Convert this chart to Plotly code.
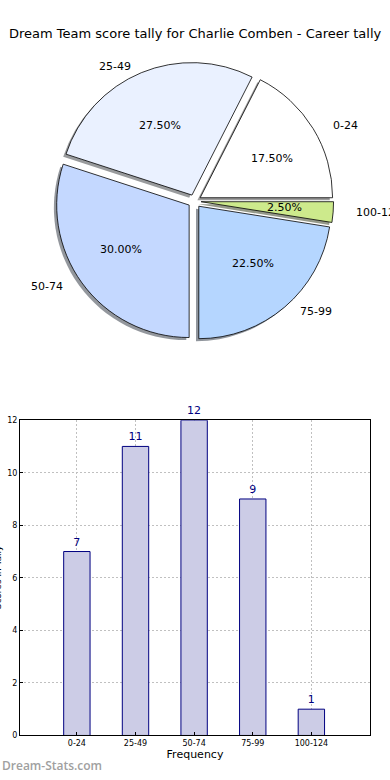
import math
import plotly.graph_objects as go

# ---- data ----
categories = ["0-24", "25-49", "50-74", "75-99", "100-124"]
counts = [7, 11, 12, 9, 1]
pie_colors = ["#ffffff", "#eaf1ff", "#c4d8ff", "#b5d6ff", "#cdea8c"]
shadow_colors = ["rgba(77,77,77,0.55)", "rgba(70,72,77,0.55)", "rgba(59,65,77,0.55)",
                 "rgba(54,64,77,0.55)", "rgba(62,70,42,0.55)"]
title_text = "Dream Team score tally for Charlie Comben - Career tally"
x_title = "Frequency"
y_title = "Scores in Tally"
watermark = "Dream-Stats.com"

W, H = 390, 780
FONT = "DejaVu Sans"


def px(x):
    return x / W


def py(y):
    return 1 - y / H


# ---- pie geometry (pixels) ----
cx, cy = 194.5, 199.5
r = 134.0              # drawn radius
rx, ry = 139.0, 128.0  # text placement radii
pull = 0.05
sx, sy = -2.8, 2.6     # shadow offset
half = r * (1 + pull)
total = sum(counts)
# first slice starts at 3 o'clock and runs counterclockwise
rot = 90 - 360 * counts[0] / total


def dom(cxp, cyp):
    return dict(x=[px(cxp - half), px(cxp + half)],
                y=[py(cyp + half), py(cyp - half)])


fig = go.Figure()

# shadow pie
fig.add_trace(go.Pie(
    labels=categories, values=counts, sort=False, direction="counterclockwise",
    rotation=rot, pull=[pull] * len(counts), domain=dom(cx + sx, cy + sy),
    marker=dict(colors=shadow_colors, line=dict(width=0)),
    textinfo="none", hoverinfo="skip", showlegend=False,
))

# main pie
fig.add_trace(go.Pie(
    labels=categories, values=counts, sort=False, direction="counterclockwise",
    rotation=rot, pull=[pull] * len(counts), domain=dom(cx, cy),
    marker=dict(colors=pie_colors, line=dict(color="#000000", width=0.8)),
    textinfo="none", showlegend=False,
))

# slice texts (percentages inside, labels outside), placed like matplotlib
annotations = []
start = 0.0
for lab, v in zip(categories, counts):
    frac = v / total
    mid = math.radians(360 * (start + frac / 2))
    start += frac
    c, s = math.cos(mid), math.sin(mid)
    ox, oy = pull * rx * c, pull * ry * s
    annotations.append(dict(
        text="%.2f%%" % (100 * frac), xref="paper", yref="paper",
        x=px(cx + ox + 0.6 * rx * c), y=py(cy - oy - 0.6 * ry * s),
        xanchor="center", yanchor="middle", showarrow=False,
        font=dict(family=FONT, size=11, color="#000000")))
    annotations.append(dict(
        text=lab, xref="paper", yref="paper",
        x=px(cx + ox + 1.1 * rx * c), y=py(cy - oy - 1.1 * ry * s),
        xanchor="left" if c > 0 else "right", yanchor="middle", showarrow=False,
        font=dict(family=FONT, size=11, color="#000000")))

# bar chart
fig.add_trace(go.Bar(
    x=categories, y=counts, width=0.45,
    marker=dict(color="#ccccE6", line=dict(color="#000080", width=1)),
    text=counts, textposition="outside", cliponaxis=False,
    textfont=dict(family=FONT, size=11, color="#000080"),
    showlegend=False, hoverinfo="x+y",
))

grid = dict(showgrid=True, gridcolor="#c0c0c0", griddash="2px,2px", gridwidth=1)

annotations += [
    dict(text=title_text, xref="paper", yref="paper", x=px(195), y=py(30),
         xanchor="center", yanchor="middle", showarrow=False,
         font=dict(family=FONT, size=13, color="#000000")),
    dict(text=y_title, xref="paper", yref="paper", x=px(-2), y=py(580),
         xanchor="center", yanchor="middle", showarrow=False, textangle=-90,
         font=dict(family=FONT, size=9, color="#000000")),
    dict(text=watermark, xref="paper", yref="paper", x=px(0), y=py(770),
         xanchor="left", yanchor="middle", showarrow=False,
         font=dict(family="Open Sans", size=12, color="#a0a0a0", weight=600)),
]

fig.update_layout(
    width=W, height=H,
    margin=dict(l=0, r=0, t=0, b=0),
    paper_bgcolor="white", plot_bgcolor="white",
    font=dict(family=FONT, color="#000000"),
    xaxis=dict(
        domain=[px(20), px(370)], range=[-0.97, 5.0], type="category",
        showline=True, linecolor="#000000", linewidth=1, mirror=True,
        ticks="inside", ticklen=3, tickcolor="#000000",
        tickfont=dict(family=FONT, size=8), zeroline=False,
        title=dict(text=x_title, font=dict(family=FONT, size=11), standoff=2),
        **grid,
    ),
    yaxis=dict(
        domain=[py(740), py(421)], range=[0, 12],
        tickvals=[0, 2, 4, 6, 8, 10, 12],
        showline=True, linecolor="#000000", linewidth=1, mirror=True,
        ticks="inside", ticklen=3, tickcolor="#000000",
        tickfont=dict(family=FONT, size=8), zeroline=False,
        **grid,
    ),
    annotations=annotations,
)

fig.write_html(
    "out.html",
    config={"displayModeBar": False},
    post_script="document.body.style.margin='0';document.body.style.overflow='hidden';",
)
